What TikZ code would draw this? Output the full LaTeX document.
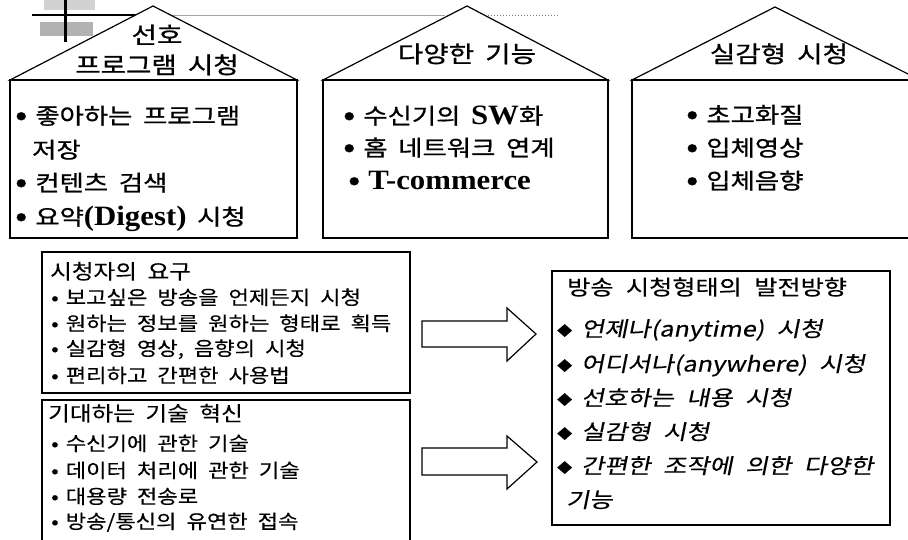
\documentclass[tikz,border=0pt]{standalone}
\usepackage{fontspec}
\setmainfont{Noto Sans CJK KR}
\newfontfamily\hangul{Noto Sans CJK KR}[FakeStretch=1.15,FakeBold=0.3,WordSpace=2]
\newfontfamily\hangulw{Noto Sans CJK KR}[FakeStretch=1.2,FakeBold=0.3,WordSpace=2.2]
\newfontfamily\hangulb{Noto Sans CJK KR}[FakeStretch=1.2,FakeBold=0.8,WordSpace=1.8]
\newfontfamily\hangulit{Noto Sans CJK KR}[FakeStretch=1.2,FakeSlant=0.2,FakeBold=0.3,WordSpace=2.2]
\newfontfamily\serifroman{Liberation Serif}[FakeStretch=1.1]
\newcommand{\lat}[1]{{\serifroman\bfseries\fontsize{28}{28}\selectfont #1}}
\newcommand{\bul}{•\hspace{7pt}}
\newcommand{\hbul}{\raisebox{-1pt}{\scalebox{1.35}{•}}\hspace{8pt}}
\newcommand{\diam}{\raisebox{1pt}{\fontsize{13}{13}\selectfont\hangul ◆}\hspace{9pt}}
\tikzset{
  frame/.style={draw,line width=1.2pt,fill=white},
  htitle/.style={anchor=center,inner sep=0pt,text height=17pt,text depth=4pt,
    font=\fontsize{23}{23}\selectfont\hangulb},
  hitem/.style={anchor=west,inner sep=0pt,text height=16pt,text depth=4pt,
    font=\fontsize{22}{22}\selectfont\hangulb},
  lhead/.style={anchor=west,inner sep=0pt,text height=15pt,text depth=3pt,
    font=\fontsize{20.5}{20.5}\selectfont\hangul},
  litem/.style={anchor=west,inner sep=0pt,text height=14pt,text depth=3pt,
    font=\fontsize{19.3}{19.3}\selectfont\hangul},
  ritem/.style={anchor=west,inner sep=0pt,text height=15pt,text depth=4pt,
    font=\fontsize{21}{21}\selectfont\hangulit},
  blockarrow/.style={draw,line width=1.2pt,fill=white,line join=miter}
}
\begin{document}
\begin{tikzpicture}[x=1pt,y=-1pt]
    \clip (0,0) rectangle (908,539);
    % clip-art at the top left
    \fill[gray!35] (44,0) rectangle (95,10);
    \fill[gray!60] (40,22) rectangle (93,36);
    \draw[line width=3pt] (65,0) -- (65,42);
    \draw[line width=2.5pt] (32,15) -- (140,15);
    \draw[gray!70,line width=1pt] (140,15) -- (445,15);
    \draw[gray,line width=1pt,dotted] (485,15) -- (560,15);

    % three houses
    \draw[frame] (10,80) -- (153,6) -- (297,80) -- cycle;
    \draw[frame] (10,80) rectangle (297,238);
    \draw[frame] (323,80) -- (467,6) -- (608,80) -- cycle;
    \draw[frame] (323,80) rectangle (608,238);
    \draw[frame] (632,80) -- (775,7) -- (920,80) -- cycle;
    \draw[frame] (632,80) rectangle (935,238);

    \node[htitle] (pref1) at (157,37) {선호};
    \node[htitle] (pref2) at (157,67) {프로그램 시청};
    \node[hitem] (prefA) at (15,118) {\hbul 좋아하는 프로그램};
    \node[hitem] (prefB) at (32,152) {저장};
    \node[hitem] (prefC) at (15,185) {\hbul 컨텐츠 검색};
    \node[hitem] (prefD) at (15,219) {\hbul 요약\lat{(Digest)} 시청};

    \node[htitle] (func) at (467,56) {다양한 기능};
    \node[hitem] (funcA) at (343,118) {\hbul 수신기의 \lat{SW}화};
    \node[hitem] (funcB) at (343,150) {\hbul 홈 네트워크 연계};
    \node[hitem] (funcC) at (348,183) {\hbul \lat{T-commerce}};

    \node[htitle] (real) at (779,56) {실감형 시청};
    \node[hitem] (realA) at (686,117) {\hbul 초고화질};
    \node[hitem] (realB) at (686,150) {\hbul 입체영상};
    \node[hitem] (realC) at (686,183) {\hbul 입체음향};

    % lower boxes
    \draw[frame] (42,252) rectangle (410,393);
    \node[lhead] (need) at (50,273) {시청자의 요구};
    \node[litem] (needA) at (51,299) {\bul 보고싶은 방송을 언제든지 시청};
    \node[litem] (needB) at (51,325) {\bul 원하는 정보를 원하는 형태로 획득};
    \node[litem] (needC) at (51,350) {\bul 실감형 영상, 음향의 시청};
    \node[litem] (needD) at (51,377) {\bul 편리하고 간편한 사용법};

    \draw[frame] (42,400) rectangle (410,560);
    \node[lhead] (tech) at (48,415) {기대하는 기술 혁신};
    \node[litem] (techA) at (51,445) {\bul 수신기에 관한 기술};
    \node[litem] (techB) at (51,472) {\bul 데이터 처리에 관한 기술};
    \node[litem] (techC) at (51,498) {\bul 대용량 전송로};
    \node[litem] (techD) at (51,523) {\bul 방송/통신의 유연한 접속};

    \draw[frame] (552,271) rectangle (890,525);
    \node[lhead,font=\fontsize{21}{21}\selectfont\hangulw] (trend) at (567,289) {방송 시청형태의 발전방향};
    \node[ritem] (trendA) at (557,331) {\diam 언제나(anytime) 시청};
    \node[ritem] (trendB) at (557,366) {\diam 어디서나(anywhere) 시청};
    \node[ritem] (trendC) at (557,400) {\diam 선호하는 내용 시청};
    \node[ritem] (trendD) at (557,434) {\diam 실감형 시청};
    \node[ritem] (trendE) at (557,468) {\diam 간편한 조작에 의한 다양한};
    \node[ritem] (trendF) at (566,502) {기능};

    % block arrows
    \draw[blockarrow] (422,321) -- (507,321) -- (507,308) -- (536,334)
      -- (507,361) -- (507,347) -- (422,347) -- cycle;
    \draw[blockarrow] (422,448) -- (507,448) -- (507,436) -- (537,462)
      -- (507,489) -- (507,475) -- (422,475) -- cycle;
\end{tikzpicture}
\end{document}
